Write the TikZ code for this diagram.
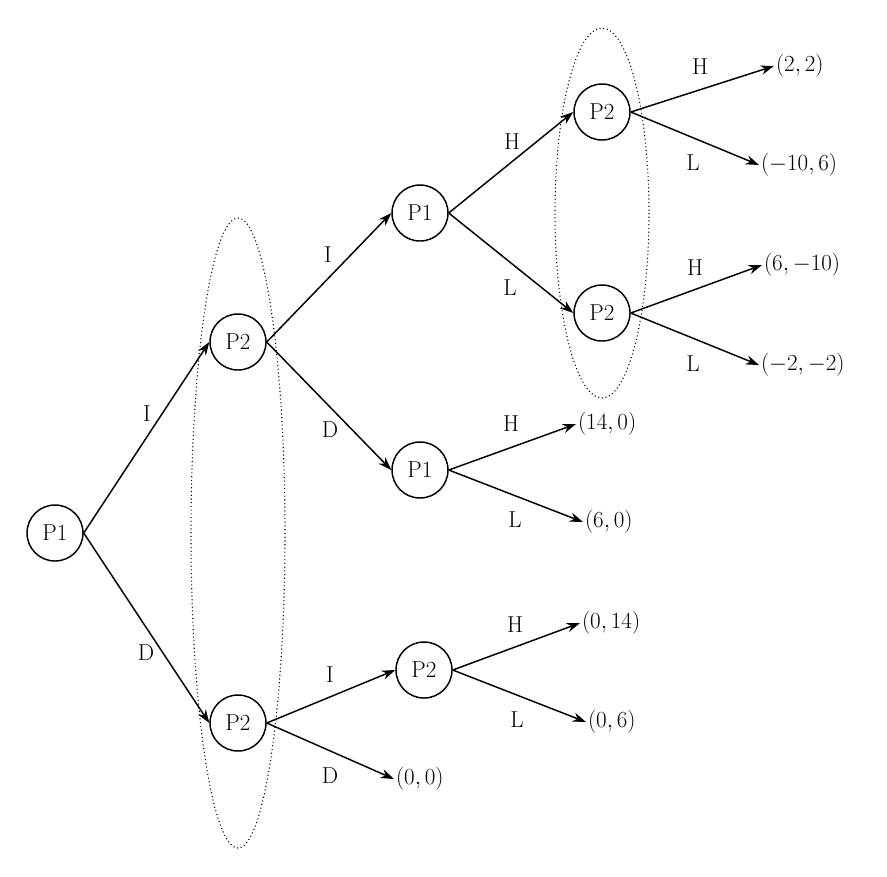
\documentclass[tikz,border=0pt]{standalone}
\usetikzlibrary{arrows.meta}
\tikzset{every picture/.style={line width=1.1pt}}
\begin{document}
\begin{tikzpicture}[x=0.75pt,y=0.75pt,yscale=-1,xscale=1,
  player/.style={circle, draw, inner sep=0pt, minimum size=42pt, font=\LARGE},
  leaf/.style={inner sep=1pt, font=\LARGE},
  move/.style={-{Stealth[length=10pt,width=7pt]}},
  lbl/.style={font=\LARGE, fill=white, inner sep=1pt},
  info/.style={dotted, line width=0.8pt}]
  \useasboundingbox (0,0) rectangle (887,876);
  %Information sets
  \draw[info] (238,533) ellipse (47 and 315);
  \draw[info] (602,213) ellipse (47 and 185);
  %Players
  \node[player] (R) at (55,533) {P1};
  \node[player] (P2a) at (238,342) {P2};
  \node[player] (P2b) at (238,723) {P2};
  \node[player] (P1a) at (420,213) {P1};
  \node[player] (P1b) at (420,470) {P1};
  \node[player] (P2c) at (602,112) {P2};
  \node[player] (P2d) at (602,313) {P2};
  \node[player] (P2e) at (424,670) {P2};
  %Payoffs
  \node[leaf, anchor=west] (L1) at (774,66) {$(2,2)$};
  \node[leaf, anchor=west] (L2) at (759,165) {$(-10,6)$};
  \node[leaf, anchor=west] (L3) at (762,265) {$(6,-10)$};
  \node[leaf, anchor=west] (L4) at (759,365) {$(-2,-2)$};
  \node[leaf, anchor=west] (L5) at (576,424) {$(14,0)$};
  \node[leaf, anchor=west] (L6) at (583,522) {$(6,0)$};
  \node[leaf, anchor=west] (L7) at (580,623) {$(0,14)$};
  \node[leaf, anchor=west] (L8) at (586,722) {$(0,6)$};
  \node[leaf, anchor=west] (L9) at (394,779) {$(0,0)$};
  %Moves
  \draw[move] (R.east) -- (P2a.west);
  \draw[move] (R.east) -- (P2b.west);
  \draw[move] (P2a.east) -- (P1a.west);
  \draw[move] (P2a.east) -- (P1b.west);
  \draw[move] (P2b.east) -- (P2e.west);
  \draw[move] (P2b.east) -- (L9.west);
  \draw[move] (P1a.east) -- (P2c.west);
  \draw[move] (P1a.east) -- (P2d.west);
  \draw[move] (P1b.east) -- (L5.west);
  \draw[move] (P1b.east) -- (L6.west);
  \draw[move] (P2e.east) -- (L7.west);
  \draw[move] (P2e.east) -- (L8.west);
  \draw[move] (P2c.east) -- (L1.west);
  \draw[move] (P2c.east) -- (L2.west);
  \draw[move] (P2d.east) -- (L3.west);
  \draw[move] (P2d.east) -- (L4.west);
  %Labels
  \node[lbl] (lI1) at (147,414) {I};
  \node[lbl] (lD1) at (146,653) {D};
  \node[lbl] (lI2) at (328,255) {I};
  \node[lbl] (lD2) at (330,430) {D};
  \node[lbl] (lI3) at (330,675) {I};
  \node[lbl] (lD3) at (330,776) {D};
  \node[lbl] (lH1) at (512,142) {H};
  \node[lbl] (lL1) at (510,288) {L};
  \node[lbl] (lH2) at (700,67) {H};
  \node[lbl] (lL2) at (693,163) {L};
  \node[lbl] (lH3) at (695,268) {H};
  \node[lbl] (lL3) at (693,364) {L};
  \node[lbl] (lH4) at (511,424) {H};
  \node[lbl] (lL4) at (515,520) {L};
  \node[lbl] (lH5) at (515,625) {H};
  \node[lbl] (lL5) at (517,720) {L};
\end{tikzpicture}
\end{document}
